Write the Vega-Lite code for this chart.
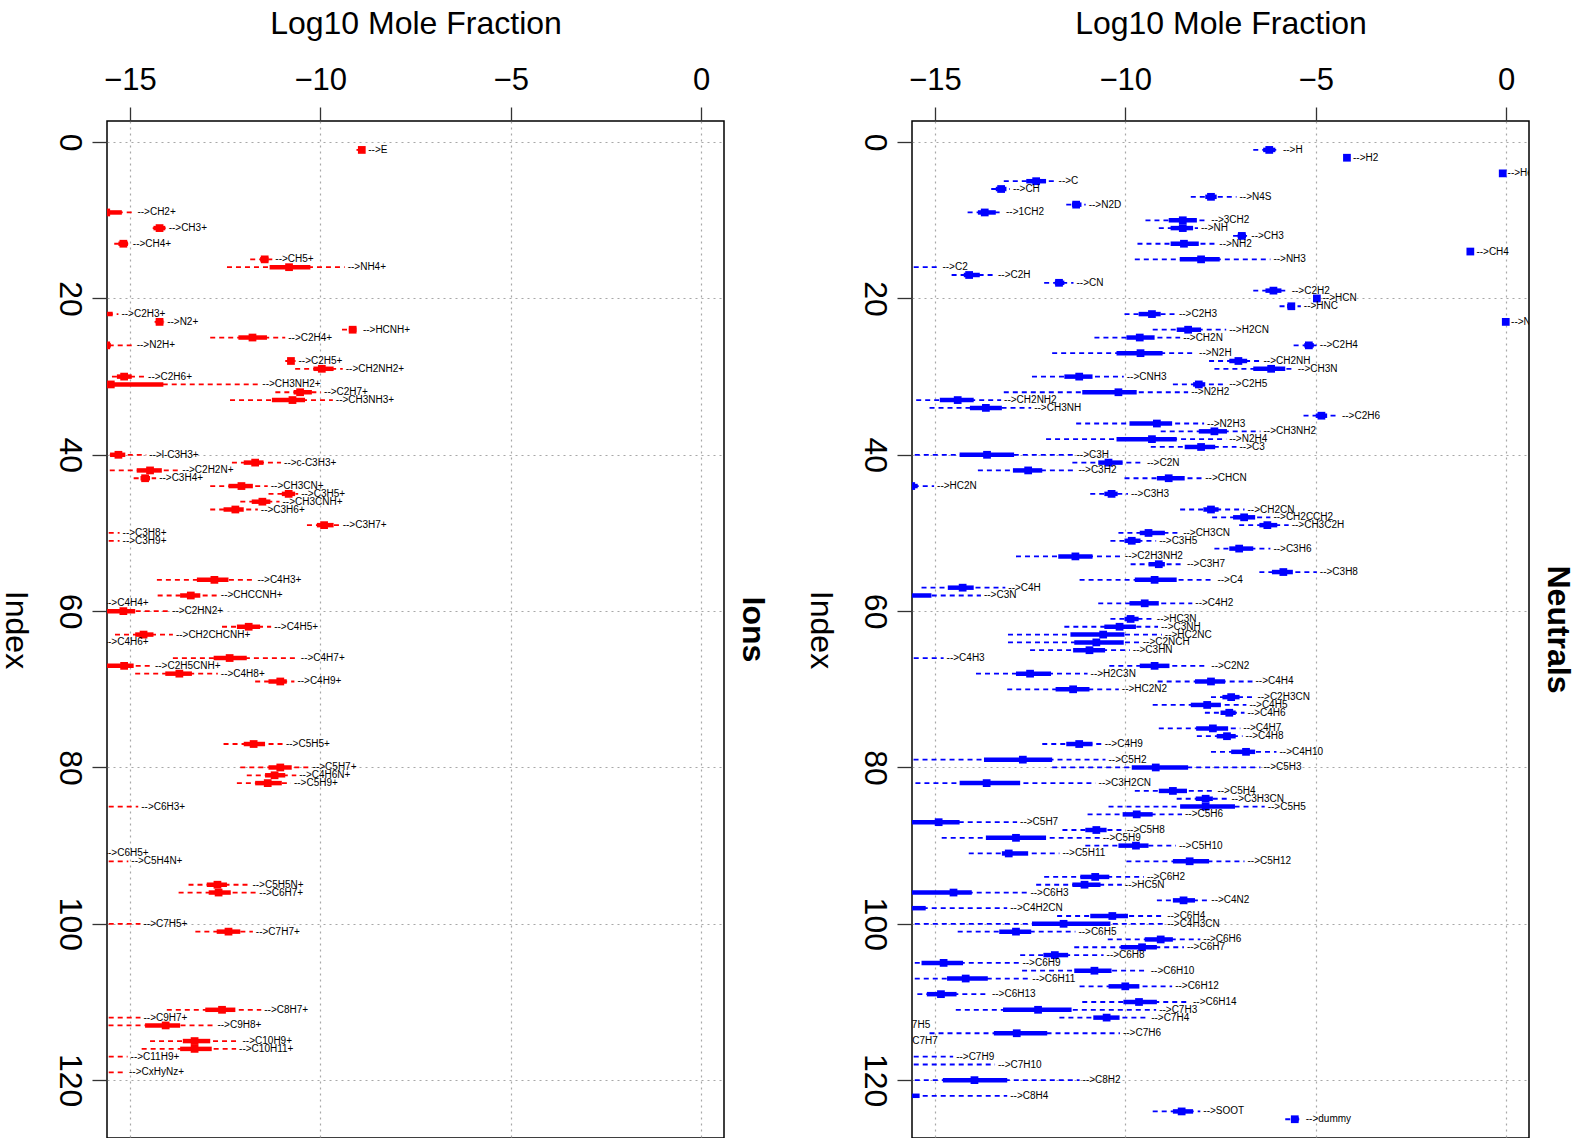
{
 "$schema": "https://vega.github.io/schema/vega-lite/v6.json",
 "background": "white",
 "padding": {"left": -2, "top": 6, "right": 0, "bottom": 0},
 "bounds": "flush",
 "spacing": 188,
 "datasets": {
  "ions": [
   {"idx":1,"lab":"-->E","lo":-9.05,"q1":-9.0,"mid":-8.91,"q3":-8.85,"hi":-8.82},
   {"idx":9,"lab":"-->CH2+","lo":-16.5,"q1":-16.0,"mid":-15.62,"q3":-15.21,"hi":-14.88},
   {"idx":11,"lab":"-->CH3+","lo":-14.4,"q1":-14.38,"mid":-14.22,"q3":-14.07,"hi":-14.06},
   {"idx":13,"lab":"-->CH4+","lo":-15.41,"q1":-15.3,"mid":-15.17,"q3":-15.05,"hi":-15.0},
   {"idx":15,"lab":"-->CH5+","lo":-11.84,"q1":-11.58,"mid":-11.46,"q3":-11.36,"hi":-11.26},
   {"idx":16,"lab":"-->NH4+","lo":-12.45,"q1":-11.33,"mid":-10.82,"q3":-10.26,"hi":-9.36},
   {"idx":22,"lab":"-->C2H3+","lo":-17.0,"q1":-16.5,"mid":-15.9,"q3":-15.45,"hi":-15.3},
   {"idx":23,"lab":"-->N2+","lo":-14.35,"q1":-14.32,"mid":-14.22,"q3":-14.12,"hi":-14.1},
   {"idx":24,"lab":"-->HCNH+","lo":-9.43,"q1":-9.25,"mid":-9.15,"q3":-9.05,"hi":-8.96},
   {"idx":25,"lab":"-->C2H4+","lo":-12.89,"q1":-12.15,"mid":-11.78,"q3":-11.4,"hi":-10.92},
   {"idx":26,"lab":"-->N2H+","lo":-16.5,"q1":-16.0,"mid":-15.62,"q3":-15.5,"hi":-14.9},
   {"idx":28,"lab":"-->C2H5+","lo":-10.92,"q1":-10.85,"mid":-10.77,"q3":-10.7,"hi":-10.65},
   {"idx":29,"lab":"-->CH2NH2+","lo":-10.66,"q1":-10.18,"mid":-9.96,"q3":-9.65,"hi":-9.41},
   {"idx":30,"lab":"-->C2H6+","lo":-15.47,"q1":-15.34,"mid":-15.15,"q3":-14.95,"hi":-14.6},
   {"idx":31,"lab":"-->CH3NH2+","lo":-16.5,"q1":-16.0,"mid":-15.5,"q3":-14.12,"hi":-11.6},
   {"idx":32,"lab":"-->C2H7+","lo":-11.18,"q1":-10.7,"mid":-10.53,"q3":-10.22,"hi":-9.98},
   {"idx":33,"lab":"-->CH3NH3+","lo":-12.37,"q1":-11.27,"mid":-10.73,"q3":-10.4,"hi":-9.67},
   {"idx":40,"lab":"-->l-C3H3+","lo":-16.0,"q1":-15.52,"mid":-15.3,"q3":-15.12,"hi":-14.57},
   {"idx":41,"lab":"-->c-C3H3+","lo":-12.32,"q1":-12.01,"mid":-11.71,"q3":-11.49,"hi":-11.03},
   {"idx":42,"lab":"-->C2H2N+","lo":-16.0,"q1":-14.82,"mid":-14.47,"q3":-14.16,"hi":-13.7},
   {"idx":43,"lab":"-->C3H4+","lo":-14.9,"q1":-14.72,"mid":-14.6,"q3":-14.47,"hi":-14.31},
   {"idx":44,"lab":"-->CH3CN+","lo":-12.89,"q1":-12.41,"mid":-12.07,"q3":-11.77,"hi":-11.38},
   {"idx":45,"lab":"-->C3H5+","lo":-11.36,"q1":-11.01,"mid":-10.83,"q3":-10.66,"hi":-10.58},
   {"idx":46,"lab":"-->CH3CNH+","lo":-12.1,"q1":-11.8,"mid":-11.52,"q3":-11.31,"hi":-11.07},
   {"idx":47,"lab":"-->C3H6+","lo":-12.89,"q1":-12.54,"mid":-12.23,"q3":-12.01,"hi":-11.64},
   {"idx":49,"lab":"-->C3H7+","lo":-10.35,"q1":-10.09,"mid":-9.9,"q3":-9.65,"hi":-9.49},
   {"idx":50,"lab":"-->C3H8+","lo":-16.5,"q1":-16.2,"mid":-16.0,"q3":-15.8,"hi":-15.27},
   {"idx":51,"lab":"-->C3H9+","lo":-16.5,"q1":-16.2,"mid":-16.0,"q3":-15.8,"hi":-15.27},
   {"idx":56,"lab":"-->C4H3+","lo":-14.29,"q1":-13.24,"mid":-12.78,"q3":-12.41,"hi":-11.73},
   {"idx":58,"lab":"-->CHCCNH+","lo":-14.27,"q1":-13.68,"mid":-13.4,"q3":-13.15,"hi":-12.69},
   {"idx":59,"lab":"-->C4H4+","lo":-17.5,"q1":-17.0,"mid":-16.8,"q3":-16.6,"hi":-15.74},
   {"idx":60,"lab":"-->C2HN2+","lo":-16.5,"q1":-16.0,"mid":-15.17,"q3":-14.86,"hi":-13.97},
   {"idx":62,"lab":"-->C4H5+","lo":-12.58,"q1":-12.19,"mid":-11.88,"q3":-11.58,"hi":-11.29},
   {"idx":63,"lab":"-->CH2CHCNH+","lo":-15.39,"q1":-14.86,"mid":-14.64,"q3":-14.38,"hi":-13.87},
   {"idx":64,"lab":"-->C4H6+","lo":-17.5,"q1":-17.0,"mid":-16.8,"q3":-16.6,"hi":-15.74},
   {"idx":66,"lab":"-->C4H7+","lo":-13.87,"q1":-12.8,"mid":-12.38,"q3":-11.93,"hi":-10.59},
   {"idx":67,"lab":"-->C2H5CNH+","lo":-16.5,"q1":-16.0,"mid":-15.15,"q3":-14.9,"hi":-14.42},
   {"idx":68,"lab":"-->C4H8+","lo":-14.86,"q1":-14.07,"mid":-13.7,"q3":-13.37,"hi":-12.69},
   {"idx":69,"lab":"-->C4H9+","lo":-11.71,"q1":-11.36,"mid":-11.05,"q3":-10.88,"hi":-10.68},
   {"idx":77,"lab":"-->C5H5+","lo":-12.54,"q1":-12.01,"mid":-11.75,"q3":-11.45,"hi":-10.98},
   {"idx":80,"lab":"-->C5H7+","lo":-12.1,"q1":-11.36,"mid":-11.05,"q3":-10.75,"hi":-10.28},
   {"idx":81,"lab":"-->C4H6N+","lo":-11.93,"q1":-11.45,"mid":-11.2,"q3":-10.92,"hi":-10.63},
   {"idx":82,"lab":"-->C5H9+","lo":-12.19,"q1":-11.71,"mid":-11.38,"q3":-11.01,"hi":-10.77},
   {"idx":85,"lab":"-->C6H3+","lo":-16.5,"q1":-16.2,"mid":-16.0,"q3":-15.8,"hi":-14.78},
   {"idx":91,"lab":"-->C6H5+","lo":-17.5,"q1":-17.0,"mid":-16.8,"q3":-16.6,"hi":-15.74},
   {"idx":92,"lab":"-->C5H4N+","lo":-16.5,"q1":-16.2,"mid":-16.0,"q3":-15.8,"hi":-15.04},
   {"idx":95,"lab":"-->C5H5N+","lo":-13.46,"q1":-12.98,"mid":-12.7,"q3":-12.45,"hi":-11.86},
   {"idx":96,"lab":"-->C6H7+","lo":-13.72,"q1":-12.93,"mid":-12.67,"q3":-12.35,"hi":-11.68},
   {"idx":100,"lab":"-->C7H5+","lo":-16.5,"q1":-16.2,"mid":-16.0,"q3":-15.8,"hi":-14.72},
   {"idx":101,"lab":"-->C7H7+","lo":-13.28,"q1":-12.72,"mid":-12.41,"q3":-12.1,"hi":-11.77},
   {"idx":111,"lab":"-->C8H7+","lo":-14.03,"q1":-13.02,"mid":-12.58,"q3":-12.23,"hi":-11.55},
   {"idx":112,"lab":"-->C9H7+","lo":-16.5,"q1":-16.2,"mid":-16.0,"q3":-15.8,"hi":-14.72},
   {"idx":113,"lab":"-->C9H8+","lo":-15.56,"q1":-14.6,"mid":-14.06,"q3":-13.68,"hi":-12.78},
   {"idx":115,"lab":"-->C10H9+","lo":-14.47,"q1":-13.61,"mid":-13.3,"q3":-12.89,"hi":-12.12},
   {"idx":116,"lab":"-->C10H11+","lo":-14.69,"q1":-13.68,"mid":-13.3,"q3":-12.85,"hi":-12.21},
   {"idx":117,"lab":"-->C11H9+","lo":-16.5,"q1":-16.2,"mid":-16.0,"q3":-15.8,"hi":-15.06},
   {"idx":119,"lab":"-->CxHyNz+","lo":-16.5,"q1":-16.2,"mid":-16.0,"q3":-15.8,"hi":-15.1}
  ],
  "neutrals": [
   {"idx":1,"lab":"-->H","lo":-6.64,"q1":-6.38,"mid":-6.22,"q3":-6.06,"hi":-5.94},
   {"idx":2,"lab":"-->H2","lo":-4.22,"q1":-4.2,"mid":-4.18,"q3":-4.15,"hi":-4.1},
   {"idx":4,"lab":"-->He","lo":-0.12,"q1":-0.1,"mid":-0.09,"q3":-0.07,"hi":-0.04},
   {"idx":5,"lab":"-->C","lo":-13.19,"q1":-12.6,"mid":-12.34,"q3":-12.08,"hi":-11.83},
   {"idx":6,"lab":"-->CH","lo":-13.52,"q1":-13.4,"mid":-13.26,"q3":-13.12,"hi":-13.03},
   {"idx":7,"lab":"-->N4S","lo":-8.28,"q1":-7.9,"mid":-7.75,"q3":-7.6,"hi":-7.08},
   {"idx":8,"lab":"-->N2D","lo":-11.55,"q1":-11.4,"mid":-11.29,"q3":-11.15,"hi":-11.04},
   {"idx":9,"lab":"-->1CH2","lo":-14.14,"q1":-13.87,"mid":-13.69,"q3":-13.4,"hi":-13.21},
   {"idx":10,"lab":"-->3CH2","lo":-9.47,"q1":-8.86,"mid":-8.49,"q3":-8.12,"hi":-7.82},
   {"idx":11,"lab":"-->NH","lo":-9.12,"q1":-8.81,"mid":-8.49,"q3":-8.22,"hi":-8.09},
   {"idx":12,"lab":"-->CH3","lo":-7.17,"q1":-7.05,"mid":-6.94,"q3":-6.83,"hi":-6.77},
   {"idx":13,"lab":"-->NH2","lo":-9.68,"q1":-8.81,"mid":-8.46,"q3":-8.07,"hi":-7.61},
   {"idx":14,"lab":"-->CH4","lo":-1.0,"q1":-0.97,"mid":-0.94,"q3":-0.9,"hi":-0.86},
   {"idx":15,"lab":"-->NH3","lo":-9.75,"q1":-8.57,"mid":-8.01,"q3":-7.52,"hi":-6.19},
   {"idx":16,"lab":"-->C2","lo":-16.5,"q1":-16.2,"mid":-16.0,"q3":-15.8,"hi":-14.88},
   {"idx":17,"lab":"-->C2H","lo":-14.56,"q1":-14.24,"mid":-14.1,"q3":-13.82,"hi":-13.42},
   {"idx":18,"lab":"-->CN","lo":-12.13,"q1":-11.85,"mid":-11.74,"q3":-11.6,"hi":-11.36},
   {"idx":19,"lab":"-->C2H2","lo":-6.64,"q1":-6.32,"mid":-6.11,"q3":-5.9,"hi":-5.71},
   {"idx":20,"lab":"-->HCN","lo":-5.0,"q1":-4.99,"mid":-4.97,"q3":-4.95,"hi":-4.9},
   {"idx":21,"lab":"-->HNC","lo":-5.95,"q1":-5.75,"mid":-5.64,"q3":-5.55,"hi":-5.39},
   {"idx":22,"lab":"-->C2H3","lo":-10.02,"q1":-9.65,"mid":-9.3,"q3":-9.07,"hi":-8.67},
   {"idx":23,"lab":"-->N2","lo":-0.05,"q1":-0.03,"mid":-0.01,"q3":0.0,"hi":0.05},
   {"idx":24,"lab":"-->H2CN","lo":-9.28,"q1":-8.65,"mid":-8.35,"q3":-8.01,"hi":-7.35},
   {"idx":25,"lab":"-->CH2N","lo":-10.81,"q1":-9.97,"mid":-9.62,"q3":-9.23,"hi":-8.56},
   {"idx":26,"lab":"-->C2H4","lo":-5.58,"q1":-5.3,"mid":-5.18,"q3":-5.05,"hi":-4.97},
   {"idx":27,"lab":"-->N2H","lo":-11.92,"q1":-10.23,"mid":-9.6,"q3":-9.02,"hi":-8.14},
   {"idx":28,"lab":"-->CH2NH","lo":-7.8,"q1":-7.27,"mid":-7.03,"q3":-6.8,"hi":-6.45},
   {"idx":29,"lab":"-->CH3N","lo":-7.66,"q1":-6.64,"mid":-6.17,"q3":-5.8,"hi":-5.55},
   {"idx":30,"lab":"-->CNH3","lo":-12.45,"q1":-11.6,"mid":-11.21,"q3":-10.86,"hi":-10.04},
   {"idx":31,"lab":"-->C2H5","lo":-8.75,"q1":-8.22,"mid":-8.07,"q3":-7.9,"hi":-7.35},
   {"idx":32,"lab":"-->N2H2","lo":-13.19,"q1":-11.13,"mid":-10.18,"q3":-9.7,"hi":-8.35},
   {"idx":33,"lab":"-->CH2NH2","lo":-15.49,"q1":-14.87,"mid":-14.4,"q3":-13.98,"hi":-13.26},
   {"idx":34,"lab":"-->CH3NH","lo":-15.14,"q1":-14.08,"mid":-13.66,"q3":-13.24,"hi":-12.47},
   {"idx":35,"lab":"-->C2H6","lo":-5.32,"q1":-5.0,"mid":-4.85,"q3":-4.7,"hi":-4.39},
   {"idx":36,"lab":"-->N2H3","lo":-11.29,"q1":-9.89,"mid":-9.17,"q3":-8.77,"hi":-7.93},
   {"idx":37,"lab":"-->CH3NH2","lo":-9.07,"q1":-8.07,"mid":-7.66,"q3":-7.33,"hi":-6.45},
   {"idx":38,"lab":"-->N2H4","lo":-12.08,"q1":-10.23,"mid":-9.3,"q3":-8.65,"hi":-7.35},
   {"idx":39,"lab":"-->C3","lo":-9.33,"q1":-8.44,"mid":-8.01,"q3":-7.64,"hi":-7.08},
   {"idx":40,"lab":"-->C3H","lo":-16.0,"q1":-14.35,"mid":-13.63,"q3":-12.92,"hi":-11.36},
   {"idx":41,"lab":"-->C2N","lo":-11.39,"q1":-10.71,"mid":-10.44,"q3":-10.07,"hi":-9.51},
   {"idx":42,"lab":"-->C3H2","lo":-13.87,"q1":-12.95,"mid":-12.55,"q3":-12.18,"hi":-11.31},
   {"idx":43,"lab":"-->CHCN","lo":-10.02,"q1":-9.17,"mid":-8.86,"q3":-8.44,"hi":-7.98},
   {"idx":44,"lab":"-->HC2N","lo":-16.5,"q1":-16.0,"mid":-15.62,"q3":-15.45,"hi":-15.02},
   {"idx":45,"lab":"-->C3H3","lo":-10.92,"q1":-10.55,"mid":-10.36,"q3":-10.2,"hi":-9.93},
   {"idx":47,"lab":"-->CH2CN","lo":-8.56,"q1":-7.95,"mid":-7.75,"q3":-7.55,"hi":-6.87},
   {"idx":48,"lab":"-->CH2CCH2","lo":-7.72,"q1":-7.17,"mid":-6.88,"q3":-6.59,"hi":-6.19},
   {"idx":49,"lab":"-->CH3C2H","lo":-7.01,"q1":-6.48,"mid":-6.27,"q3":-6.01,"hi":-5.71},
   {"idx":50,"lab":"-->CH3CN","lo":-10.18,"q1":-9.62,"mid":-9.39,"q3":-8.96,"hi":-8.56},
   {"idx":51,"lab":"-->C3H5","lo":-10.39,"q1":-10.02,"mid":-9.83,"q3":-9.6,"hi":-9.19},
   {"idx":52,"lab":"-->C3H6","lo":-7.66,"q1":-7.27,"mid":-7.01,"q3":-6.64,"hi":-6.19},
   {"idx":53,"lab":"-->C2H3NH2","lo":-12.87,"q1":-11.76,"mid":-11.31,"q3":-10.86,"hi":-10.09},
   {"idx":54,"lab":"-->C3H7","lo":-9.86,"q1":-9.39,"mid":-9.12,"q3":-8.96,"hi":-8.46},
   {"idx":55,"lab":"-->C3H8","lo":-6.48,"q1":-6.15,"mid":-5.85,"q3":-5.6,"hi":-4.97},
   {"idx":56,"lab":"-->C4","lo":-11.2,"q1":-9.75,"mid":-9.23,"q3":-8.65,"hi":-7.66},
   {"idx":57,"lab":"-->C4H","lo":-15.35,"q1":-14.66,"mid":-14.27,"q3":-13.98,"hi":-13.15},
   {"idx":58,"lab":"-->C3N","lo":-16.5,"q1":-16.0,"mid":-15.8,"q3":-15.09,"hi":-13.79},
   {"idx":59,"lab":"-->C4H2","lo":-10.71,"q1":-9.89,"mid":-9.49,"q3":-9.12,"hi":-8.24},
   {"idx":61,"lab":"-->HC3N","lo":-10.39,"q1":-10.02,"mid":-9.86,"q3":-9.65,"hi":-9.25},
   {"idx":62,"lab":"-->C3NH","lo":-11.6,"q1":-10.55,"mid":-10.15,"q3":-9.72,"hi":-9.14},
   {"idx":63,"lab":"-->HC2NC","lo":-13.08,"q1":-11.44,"mid":-10.58,"q3":-10.02,"hi":-9.04},
   {"idx":64,"lab":"-->C2NCH","lo":-13.08,"q1":-11.34,"mid":-10.76,"q3":-10.04,"hi":-9.62},
   {"idx":65,"lab":"-->C3HN","lo":-12.5,"q1":-11.37,"mid":-10.94,"q3":-10.53,"hi":-9.88},
   {"idx":66,"lab":"-->C4H3","lo":-16.5,"q1":-16.2,"mid":-16.0,"q3":-15.8,"hi":-14.77},
   {"idx":67,"lab":"-->C2N2","lo":-10.42,"q1":-9.62,"mid":-9.23,"q3":-8.84,"hi":-7.82},
   {"idx":68,"lab":"-->H2C3N","lo":-13.92,"q1":-12.87,"mid":-12.5,"q3":-11.95,"hi":-10.99},
   {"idx":69,"lab":"-->C4H4","lo":-9.15,"q1":-8.17,"mid":-7.75,"q3":-7.38,"hi":-6.66},
   {"idx":70,"lab":"-->HC2N2","lo":-13.1,"q1":-11.83,"mid":-11.37,"q3":-10.94,"hi":-10.17},
   {"idx":71,"lab":"-->C2H3CN","lo":-7.75,"q1":-7.45,"mid":-7.22,"q3":-7.0,"hi":-6.61},
   {"idx":72,"lab":"-->C4H5","lo":-9.28,"q1":-8.28,"mid":-7.85,"q3":-7.49,"hi":-6.82},
   {"idx":73,"lab":"-->C4H6","lo":-7.91,"q1":-7.5,"mid":-7.27,"q3":-7.1,"hi":-6.87},
   {"idx":75,"lab":"-->C4H7","lo":-9.12,"q1":-8.14,"mid":-7.7,"q3":-7.3,"hi":-6.98},
   {"idx":76,"lab":"-->C4H8","lo":-8.12,"q1":-7.6,"mid":-7.33,"q3":-7.1,"hi":-6.92},
   {"idx":77,"lab":"-->C4H9","lo":-12.18,"q1":-11.55,"mid":-11.21,"q3":-10.86,"hi":-10.62},
   {"idx":78,"lab":"-->C4H10","lo":-7.75,"q1":-7.22,"mid":-6.83,"q3":-6.59,"hi":-6.03},
   {"idx":79,"lab":"-->C5H2","lo":-15.56,"q1":-13.71,"mid":-12.69,"q3":-11.92,"hi":-10.52},
   {"idx":80,"lab":"-->C5H3","lo":-11.92,"q1":-9.83,"mid":-9.2,"q3":-8.35,"hi":-6.45},
   {"idx":82,"lab":"-->C3H2CN","lo":-15.51,"q1":-14.35,"mid":-13.64,"q3":-12.76,"hi":-10.78},
   {"idx":83,"lab":"-->C5H4","lo":-9.75,"q1":-9.12,"mid":-8.75,"q3":-8.38,"hi":-7.66},
   {"idx":84,"lab":"-->C3H3CN","lo":-8.65,"q1":-8.15,"mid":-7.89,"q3":-7.7,"hi":-7.29},
   {"idx":85,"lab":"-->C5H5","lo":-10.44,"q1":-8.56,"mid":-7.89,"q3":-7.12,"hi":-6.34},
   {"idx":86,"lab":"-->C5H6","lo":-10.99,"q1":-10.07,"mid":-9.7,"q3":-9.28,"hi":-8.51},
   {"idx":87,"lab":"-->C5H7","lo":-16.5,"q1":-16.0,"mid":-14.9,"q3":-14.35,"hi":-12.84},
   {"idx":88,"lab":"-->C5H8","lo":-11.65,"q1":-11.05,"mid":-10.76,"q3":-10.49,"hi":-10.04},
   {"idx":89,"lab":"-->C5H9","lo":-14.82,"q1":-13.66,"mid":-12.87,"q3":-12.08,"hi":-10.67},
   {"idx":90,"lab":"-->C5H10","lo":-11.05,"q1":-10.18,"mid":-9.72,"q3":-9.39,"hi":-8.67},
   {"idx":91,"lab":"-->C5H11","lo":-14.11,"q1":-13.24,"mid":-13.06,"q3":-12.55,"hi":-11.73},
   {"idx":92,"lab":"-->C5H12","lo":-9.97,"q1":-8.75,"mid":-8.31,"q3":-7.8,"hi":-6.87},
   {"idx":94,"lab":"-->C6H2","lo":-12.13,"q1":-11.18,"mid":-10.79,"q3":-10.42,"hi":-9.51},
   {"idx":95,"lab":"-->HC5N","lo":-12.34,"q1":-11.39,"mid":-11.07,"q3":-10.65,"hi":-10.09},
   {"idx":96,"lab":"-->C6H3","lo":-16.5,"q1":-16.0,"mid":-14.51,"q3":-14.03,"hi":-12.57},
   {"idx":97,"lab":"-->C4N2","lo":-9.17,"q1":-8.75,"mid":-8.47,"q3":-8.17,"hi":-7.82},
   {"idx":98,"lab":"-->C4H2CN","lo":-16.5,"q1":-16.0,"mid":-15.8,"q3":-15.24,"hi":-13.1},
   {"idx":99,"lab":"-->C6H4","lo":-11.79,"q1":-10.92,"mid":-10.34,"q3":-9.93,"hi":-8.98},
   {"idx":100,"lab":"-->C4H3CN","lo":-16.0,"q1":-12.45,"mid":-11.62,"q3":-10.39,"hi":-8.98},
   {"idx":101,"lab":"-->C6H5","lo":-14.4,"q1":-13.31,"mid":-12.87,"q3":-12.47,"hi":-11.31},
   {"idx":102,"lab":"-->C6H6","lo":-10.46,"q1":-9.49,"mid":-9.07,"q3":-8.75,"hi":-8.03},
   {"idx":103,"lab":"-->C6H7","lo":-11.34,"q1":-10.12,"mid":-9.56,"q3":-9.17,"hi":-8.46},
   {"idx":104,"lab":"-->C6H8","lo":-12.76,"q1":-12.15,"mid":-11.85,"q3":-11.5,"hi":-10.57},
   {"idx":105,"lab":"-->C6H9","lo":-16.0,"q1":-15.35,"mid":-14.77,"q3":-14.26,"hi":-12.78},
   {"idx":106,"lab":"-->C6H10","lo":-12.71,"q1":-11.34,"mid":-10.81,"q3":-10.36,"hi":-9.41},
   {"idx":107,"lab":"-->C6H11","lo":-16.0,"q1":-14.68,"mid":-14.19,"q3":-13.61,"hi":-12.52},
   {"idx":108,"lab":"-->C6H12","lo":-11.2,"q1":-10.44,"mid":-10.0,"q3":-9.63,"hi":-8.77},
   {"idx":109,"lab":"-->C6H13","lo":-15.46,"q1":-15.21,"mid":-14.84,"q3":-14.43,"hi":-13.58},
   {"idx":110,"lab":"-->C6H14","lo":-11.13,"q1":-10.05,"mid":-9.64,"q3":-9.17,"hi":-8.3},
   {"idx":111,"lab":"-->C7H3","lo":-14.45,"q1":-13.21,"mid":-12.29,"q3":-11.41,"hi":-9.19},
   {"idx":112,"lab":"-->C7H4","lo":-11.73,"q1":-10.84,"mid":-10.49,"q3":-10.15,"hi":-9.4},
   {"idx":113,"lab":"-->C7H5","lo":-18.0,"q1":-17.5,"mid":-17.2,"q3":-17.0,"hi":-16.2},
   {"idx":114,"lab":"-->C7H6","lo":-15.14,"q1":-13.45,"mid":-12.85,"q3":-12.05,"hi":-10.14},
   {"idx":115,"lab":"-->C7H7","lo":-18.0,"q1":-17.5,"mid":-17.2,"q3":-17.0,"hi":-16.0},
   {"idx":117,"lab":"-->C7H9","lo":-16.5,"q1":-16.2,"mid":-16.0,"q3":-15.8,"hi":-14.52},
   {"idx":118,"lab":"-->C7H10","lo":-16.5,"q1":-16.2,"mid":-16.0,"q3":-15.8,"hi":-13.42},
   {"idx":120,"lab":"-->C8H2","lo":-16.0,"q1":-14.79,"mid":-13.96,"q3":-13.1,"hi":-11.2},
   {"idx":122,"lab":"-->C8H4","lo":-16.5,"q1":-16.0,"mid":-15.8,"q3":-15.4,"hi":-13.1},
   {"idx":124,"lab":"-->SOOT","lo":-9.28,"q1":-8.75,"mid":-8.52,"q3":-8.22,"hi":-8.03},
   {"idx":125,"lab":"-->dummy","lo":-5.8,"q1":-5.65,"mid":-5.55,"q3":-5.45,"hi":-5.34}
  ]
 },
 "hconcat": [
  {
   "width": 617, "height": 1017,
   "title": {"text": "Ions", "orient": "right", "anchor": "middle", "fontSize": 32, "fontWeight": "bold", "font": "Liberation Sans", "color": "black", "offset": 12},
   "data": {"name": "ions"},
   "encoding": {
    "y": {"field": "idx", "type": "quantitative", "title": "Index",
          "scale": {"domain": [-2.7, 127.4], "reverse": true, "nice": false, "zero": false},
          "axis": {"values": [0, 20, 40, 60, 80, 100, 120]}}
   },
   "layer": [
    {"mark": {"type": "rule", "clip": true, "strokeDash": [5, 4], "strokeWidth": 1.8, "color": "#FF0000"},
     "encoding": {"x": {"field": "lo", "type": "quantitative", "title": "Log10 Mole Fraction", "scale": {"domain": [-15.6, 0.6], "nice": false, "zero": false}, "axis": {"orient": "top", "values": [-15, -10, -5, 0]}}, "x2": {"field": "hi"}}},
    {"mark": {"type": "rule", "clip": true, "strokeWidth": 4.5, "color": "#FF0000"},
     "encoding": {"x": {"field": "q1", "type": "quantitative", "title": "Log10 Mole Fraction", "scale": {"domain": [-15.6, 0.6], "nice": false, "zero": false}, "axis": {"orient": "top", "values": [-15, -10, -5, 0]}}, "x2": {"field": "q3"}}},
    {"mark": {"type": "square", "clip": true, "size": 60, "filled": true, "opacity": 1, "color": "#FF0000"},
     "encoding": {"x": {"field": "mid", "type": "quantitative", "title": "Log10 Mole Fraction", "scale": {"domain": [-15.6, 0.6], "nice": false, "zero": false}, "axis": {"orient": "top", "values": [-15, -10, -5, 0]}}}},
    {"mark": {"type": "text", "clip": true, "align": "left", "baseline": "middle", "dx": 3, "fontSize": 10, "font": "Liberation Sans", "color": "black"},
     "encoding": {"x": {"field": "hi", "type": "quantitative", "title": "Log10 Mole Fraction", "scale": {"domain": [-15.6, 0.6], "nice": false, "zero": false}, "axis": {"orient": "top", "values": [-15, -10, -5, 0]}}, "text": {"field": "lab"}}}
   ]
  },
  {
   "width": 617, "height": 1017,
   "title": {"text": "Neutrals", "orient": "right", "anchor": "middle", "fontSize": 32, "fontWeight": "bold", "font": "Liberation Sans", "color": "black", "offset": 12},
   "data": {"name": "neutrals"},
   "encoding": {
    "y": {"field": "idx", "type": "quantitative", "title": "Index",
          "scale": {"domain": [-2.7, 127.4], "reverse": true, "nice": false, "zero": false},
          "axis": {"values": [0, 20, 40, 60, 80, 100, 120]}}
   },
   "layer": [
    {"mark": {"type": "rule", "clip": true, "strokeDash": [5, 4], "strokeWidth": 1.8, "color": "#0000FF"},
     "encoding": {"x": {"field": "lo", "type": "quantitative", "title": "Log10 Mole Fraction", "scale": {"domain": [-15.6, 0.6], "nice": false, "zero": false}, "axis": {"orient": "top", "values": [-15, -10, -5, 0]}}, "x2": {"field": "hi"}}},
    {"mark": {"type": "rule", "clip": true, "strokeWidth": 4.5, "color": "#0000FF"},
     "encoding": {"x": {"field": "q1", "type": "quantitative", "title": "Log10 Mole Fraction", "scale": {"domain": [-15.6, 0.6], "nice": false, "zero": false}, "axis": {"orient": "top", "values": [-15, -10, -5, 0]}}, "x2": {"field": "q3"}}},
    {"mark": {"type": "square", "clip": true, "size": 60, "filled": true, "opacity": 1, "color": "#0000FF"},
     "encoding": {"x": {"field": "mid", "type": "quantitative", "title": "Log10 Mole Fraction", "scale": {"domain": [-15.6, 0.6], "nice": false, "zero": false}, "axis": {"orient": "top", "values": [-15, -10, -5, 0]}}}},
    {"mark": {"type": "text", "clip": true, "align": "left", "baseline": "middle", "dx": 3, "fontSize": 10, "font": "Liberation Sans", "color": "black"},
     "encoding": {"x": {"field": "hi", "type": "quantitative", "title": "Log10 Mole Fraction", "scale": {"domain": [-15.6, 0.6], "nice": false, "zero": false}, "axis": {"orient": "top", "values": [-15, -10, -5, 0]}}, "text": {"field": "lab"}}}
   ]
  }
 ],
 "config": {
  "view": {"stroke": "black", "strokeWidth": 1.5},
  "title": {"baseline": "bottom"},
  "axis": {
   "domain": false, "grid": true, "gridDash": [2, 4], "gridColor": "#a8a8a8", "gridWidth": 1.2,
   "tickColor": "#333333", "tickWidth": 1.3, "labelColor": "black", "titleColor": "black",
   "labelFlush": false, "labelOverlap": false, "titleFontWeight": "normal"
  },
  "axisX": {
   "tickSize": 14, "labelFontSize": 31, "labelFont": "Liberation Sans",
   "labelPadding": 11, "titleFontSize": 32, "titleFont": "Liberation Sans", "titlePadding": 24
  },
  "axisY": {
   "tickSize": 15, "labelFontSize": 32, "labelFont": "Liberation Sans", "labelAngle": 90,
   "labelAlign": "center", "labelBaseline": "top", "labelPadding": 8,
   "titleFontSize": 32, "titleFont": "Liberation Sans", "titleAngle": 90, "titleBaseline": "top", "titlePadding": 23
  }
 }
}
